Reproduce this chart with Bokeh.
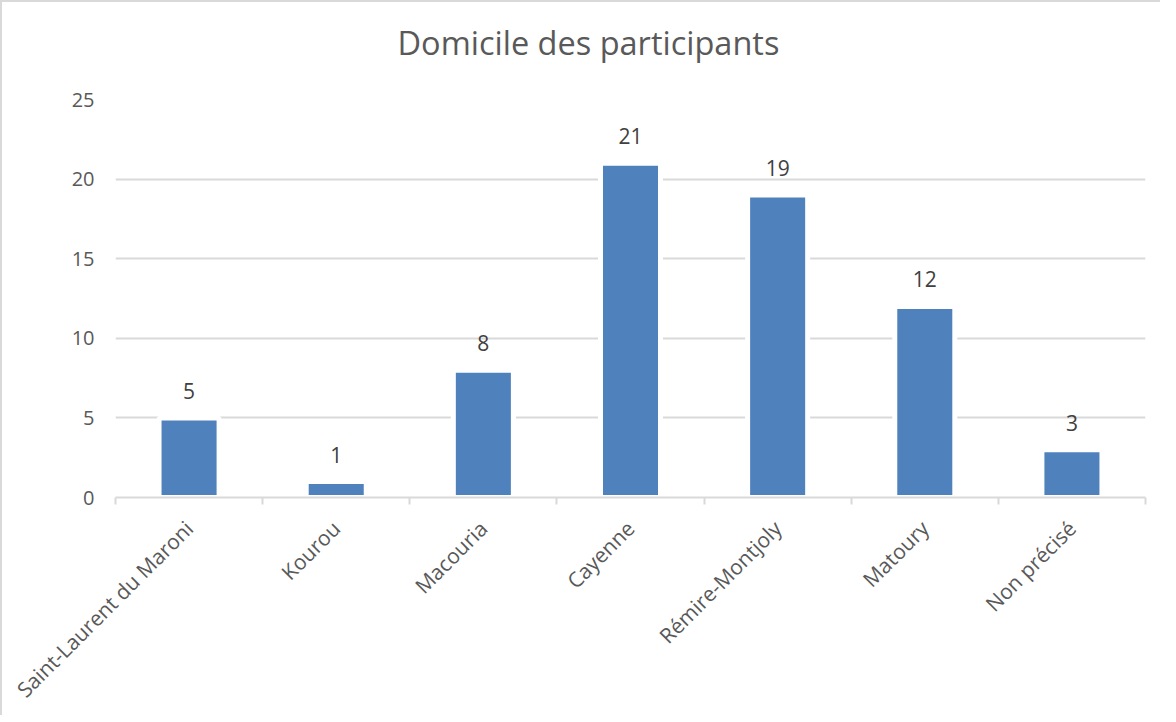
import numpy as np
from bokeh.plotting import figure
from bokeh.models import ColumnDataSource, Range1d, FixedTicker, Title
from bokeh.core.properties import value
from bokeh.embed import file_html
from bokeh.resources import INLINE

categories = ["Saint-Laurent du Maroni", "Kourou", "Macouria", "Cayenne",
              "Rémire-Montjoly", "Matoury", "Non précisé"]
counts = [5, 1, 8, 21, 19, 12, 3]
y_ticks = [0, 5, 10, 15, 20, 25]
title_text = "Domicile des participants"

FONT = "Open Sans"
GREY = "#595959"
GRID = "#d9d9d9"
BAR = "#4f81bd"

n = len(categories)
idx = list(range(n))
src = ColumnDataSource(dict(x=idx, top=counts, lab=[str(c) for c in counts]))

p = figure(width=1158, height=704, output_backend="svg", toolbar_location=None,
           x_range=Range1d(-0.5, n - 0.5), y_range=Range1d(0, 25),
           frame_width=1030, frame_height=398,
           min_border_left=113, min_border_top=97, min_border_right=15, min_border_bottom=209)
p.styles = {"border-top": "2px solid #d9d9d9", "border-left": "2px solid #d9d9d9"}
p.background_fill_color = "white"
p.border_fill_color = "white"
p.outline_line_color = None

p.vbar(x="x", top="top", width=0.408, source=src, fill_color=BAR,
       line_color="white", line_width=5)
p.text(x="x", y="top", text="lab", source=src, y_offset=-27, text_align="center",
       text_baseline="alphabetic", text_font=value(FONT), text_font_size="21px",
       text_color="#404040")

# spacer between frame and title (first added sits closest to the frame)
spacer = Title(text=" ", text_font_size="1px", standoff=32, text_color="white")
p.add_layout(spacer, "above")
t = Title(text=title_text, align="left", text_font=FONT, text_font_size="32.5px",
          text_color=GREY, text_font_style="normal", offset=282, standoff=0)
p.add_layout(t, "above")

# x axis
p.xaxis.ticker = FixedTicker(ticks=idx, minor_ticks=[i - 0.5 for i in idx] + [n - 0.5])
p.xaxis.major_label_overrides = {i: c for i, c in zip(idx, categories)}
p.xaxis.major_label_orientation = np.pi / 4
p.xaxis.major_tick_line_color = None
p.xaxis.minor_tick_line_color = GRID
p.xaxis.minor_tick_line_width = 2
p.xaxis.minor_tick_out = 7
p.xaxis.minor_tick_in = 0
p.xaxis.axis_line_color = GRID
p.xaxis.axis_line_width = 2
p.xaxis.major_label_text_font = FONT
p.xaxis.major_label_text_font_size = "21px"
p.xaxis.major_label_text_color = GREY
p.xaxis.major_label_standoff = 20
p.xgrid.grid_line_color = None

# y axis
p.yaxis.ticker = FixedTicker(ticks=y_ticks)
p.yaxis.axis_line_color = None
p.yaxis.major_tick_line_color = None
p.yaxis.minor_tick_line_color = None
p.yaxis.major_label_text_font = FONT
p.yaxis.major_label_text_font_size = "20px"
p.yaxis.major_label_text_color = GREY
p.yaxis.major_label_standoff = 15
p.ygrid.grid_line_color = GRID
p.ygrid.grid_line_width = 2

open("out.html", "w").write(file_html(p, INLINE))
